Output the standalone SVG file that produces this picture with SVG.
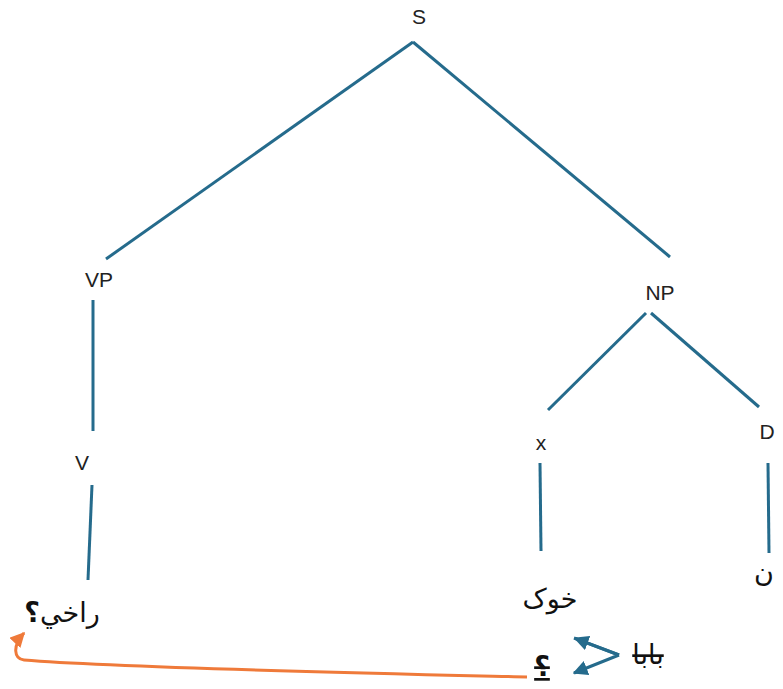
<svg xmlns="http://www.w3.org/2000/svg" width="783" height="689" viewBox="0 0 783 689">
<style>
.lbl{font-family:"Liberation Sans",Arial,sans-serif;font-size:21px;fill:#222;text-anchor:middle}
.ar{font-family:"DejaVu Sans","Noto Sans",sans-serif;font-size:27px;fill:#111;text-anchor:middle}
.edge{stroke:#256b8c;stroke-width:3;fill:none;stroke-linecap:butt}
</style>
<defs>
<marker id="hb" viewBox="0 0 10 10" refX="9" refY="5" markerWidth="5" markerHeight="5" orient="auto"><path d="M0,0 L10,5 L0,10 z" fill="#256b8c"/></marker>
<marker id="ho" viewBox="0 0 10 10" refX="9" refY="5" markerWidth="5" markerHeight="5" orient="auto"><path d="M0,0 L10,5 L0,10 z" fill="#ef7a3a"/></marker>
</defs>
<rect width="783" height="689" fill="#fff"/>
<g id="connectors">
<line class="edge" x1="413" y1="42" x2="106" y2="259"/>
<line class="edge" x1="413" y1="42" x2="670" y2="257"/>
<line class="edge" x1="93" y1="300" x2="93" y2="431"/>
<line class="edge" x1="92" y1="485" x2="88" y2="580"/>
<line class="edge" x1="646" y1="313" x2="548" y2="410"/>
<line class="edge" x1="651" y1="313" x2="759" y2="407"/>
<line class="edge" x1="540" y1="463" x2="541" y2="551"/>
<line class="edge" x1="768" y1="463" x2="769" y2="553"/>
<path class="edge" d="M619,655 L574,638 M619,655 L574,673" marker-end="url(#hb)"/>
<path class="edge" d="M619,655 L575,638.3" marker-end="url(#hb)"/>
<path d="M527,677 C400,674 120,668 24,660 C14,659 12,646 24,633" stroke="#ef7a3a" stroke-width="3" fill="none" marker-end="url(#ho)"/>
</g>
<g id="n-S"><text class="lbl" x="419" y="24">S</text></g>
<g id="n-VP"><text class="lbl" x="99" y="287">VP</text></g>
<g id="n-NP"><text class="lbl" x="660" y="300">NP</text></g>
<g id="n-V"><text class="lbl" x="82" y="470">V</text></g>
<g id="n-x"><text class="lbl" x="541" y="450">x</text></g>
<g id="n-D"><text class="lbl" x="767" y="439">D</text></g>
<g id="n-rakhi"><text class="ar" x="62" y="622" direction="rtl" unicode-bidi="embed">راخي<tspan font-weight="bold">؟</tspan></text></g>
<g id="n-khuk"><text class="ar" x="550" y="608" direction="rtl" unicode-bidi="embed">خوک</text></g>
<g id="n-n"><text class="ar" x="764" y="582" text-anchor="start" direction="ltr">ن</text></g>
<g id="n-baba"><text class="ar" x="648" y="664" direction="rtl" unicode-bidi="embed" text-decoration="line-through">بابا</text></g>
<g id="n-q"><text class="ar" x="542" y="676" font-weight="bold" text-decoration="underline line-through">؟</text></g>
</svg>
